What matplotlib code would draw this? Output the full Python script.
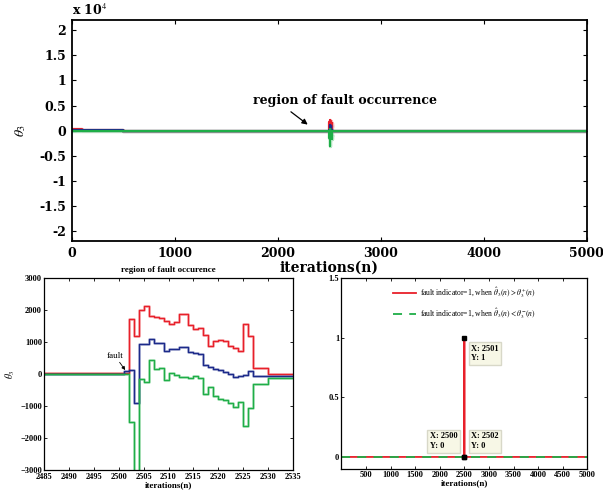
import numpy as np
import matplotlib
matplotlib.use("Agg")
import matplotlib.pyplot as plt
from matplotlib.ticker import FuncFormatter, MultipleLocator

plt.rcParams['mathtext.fontset'] = 'stix'

# estimated values of theta_3 around the fault (n = 2500 .. 2530), held until next n
n_fault = list(range(2500, 2531))
red_fault = [20, 20, 1720, 1177, 1990, 2115, 1803, 1770, 1740, 1647, 1574, 1626, 1876, 1876,
             1543, 1407, 1438, 1230, 865, 1021, 1073, 1021, 886, 813, 730, 1563, 1177,
             188, 188, 188, 0]
blue_fault = [0, 100, 130, -900, 920, 920, 1094, 969, 969, 708, 790, 790, 840, 840, 670, 640,
              625, 292, 220, 156, 120, 60, 10, -104, -73, -21, 83, -52, -52, -52, -60]
green_fault = [0, 0, -1500, -3100, -150, -250, 420, 140, 200, -200, 40, -20, -100, -100, -140,
               -70, -120, -620, -420, -700, -780, -820, -900, -1020, -880, -1630, -1070,
               -300, -300, -300, -120]

# early transient for the full-range plot
n_start = [0, 100, 500]
red_start = [250, 150, 20]
blue_start = [120, 40, 0]
green_start = [-60, -20, 0]

# fault indicator
ind_x = [0, 2500, 2501, 2502, 5000]
ind_up = [0, 0, 1, 0, 0]
ind_down = [0, 0, 0, 0, 0]
tips_x = [2501, 2500, 2502]
tips_y = [1, 0, 0]

RED = '#e8202a'
BLUE = '#1c2a8a'
GREEN = '#1fae48'

fig = plt.figure(figsize=(6.03, 4.92), dpi=100)

# ---------------- top: full range ----------------
ax1 = fig.add_axes([0.119, 0.510, 0.854, 0.449])
for c, s0, sf in [(RED, red_start, red_fault), (BLUE, blue_start, blue_fault),
                  (GREEN, green_start, green_fault)]:
    x = n_start + n_fault + [5000]
    y = s0 + sf + [sf[-1]]
    ax1.plot(x, y, color=c, lw=2.4, alpha=0.3, drawstyle='steps-post')
    ax1.plot(x, y, color=c, lw=1.5, drawstyle='steps-post')
ax1.set_xlim(0, 5000)
ax1.set_ylim(-2.2e4, 2.2e4)
ax1.set_yticks(np.arange(-2e4, 2.01e4, 0.5e4))
ax1.yaxis.set_major_formatter(FuncFormatter(lambda v, p: '%g' % (v / 1e4)))
ax1.xaxis.set_major_locator(MultipleLocator(1000))
ax1.tick_params(direction='in', top=True, right=True, length=3, width=0.8, labelsize=9, pad=4)
for lab in ax1.get_xticklabels() + ax1.get_yticklabels():
    lab.set_family('DejaVu Serif')
    lab.set_fontweight('bold')
for sp in ax1.spines.values():
    sp.set_linewidth(1.3)
ax1.set_xlabel('iterations(n)', family='DejaVu Serif', fontweight='bold', fontsize=10, labelpad=1)
ax1.set_ylabel(r'$\theta_3$', fontsize=10, labelpad=8)
ax1.text(0, 1.01, r'x 10$^4$', transform=ax1.transAxes, family='DejaVu Serif',
         fontweight='bold', fontsize=9, va='bottom')
ax1.annotate('region of fault occurrence', xy=(2291, 1200), xytext=(2650, 6100),
             ha='center', va='center', family='DejaVu Serif', fontweight='bold', fontsize=9,
             arrowprops=dict(arrowstyle='-|>', color='black', lw=0.9, shrinkA=3, shrinkB=0,
                             mutation_scale=8, relpos=(0.17, 0.0)))

# ---------------- bottom left: zoom on fault ----------------
ax2 = fig.add_axes([0.073, 0.045, 0.413, 0.39])
for c, sf in [(RED, red_fault), (BLUE, blue_fault), (GREEN, green_fault)]:
    x = [2485] + n_fault + [2535]
    y = [sf[0]] + sf + [sf[-1]]
    ax2.plot(x, y, color=c, lw=2.0, alpha=0.3, drawstyle='steps-post')
    ax2.plot(x, y, color=c, lw=1.0, drawstyle='steps-post')
ax2.set_xlim(2485, 2535)
ax2.set_ylim(-3000, 3000)
ax2.xaxis.set_major_locator(MultipleLocator(5))
ax2.yaxis.set_major_locator(MultipleLocator(1000))
ax2.tick_params(direction='in', top=True, right=True, length=2.5, width=0.6, labelsize=6)
ax2.tick_params(axis='x', pad=2.5)
ax2.tick_params(axis='y', pad=1.5)
for lab in ax2.get_xticklabels() + ax2.get_yticklabels():
    lab.set_family('Liberation Serif')
    lab.set_fontweight('bold')
for sp in ax2.spines.values():
    sp.set_linewidth(0.9)
ax2.set_title('region of fault occurence', family='Liberation Serif', fontweight='bold',
              fontsize=6.5, pad=4)
ax2.set_xlabel('iterations(n)', family='Liberation Serif', fontweight='bold', fontsize=6.5,
               labelpad=0)
ax2.set_ylabel(r'$\theta_3$', fontsize=7, labelpad=2)
ax2.annotate('fault', xy=(2501.3, 120), xytext=(2499.2, 450), ha='center', va='bottom',
             family='Liberation Serif', fontsize=6.5,
             arrowprops=dict(arrowstyle='-|>', color='black', lw=0.6, mutation_scale=5,
                             shrinkA=0, shrinkB=0))

# ---------------- bottom right: fault indicator ----------------
ax3 = fig.add_axes([0.566, 0.047, 0.408, 0.388])
ax3.plot(ind_x, ind_up, color=RED, lw=1.3,
         label=r'fault indicator=1, when $\hat{\theta}_3(n) > \theta_3^{+}(n)$')
ax3.plot(ind_x, ind_down, color=GREEN, lw=1.3, ls=(0, (5, 4)),
         label=r'fault indicator=1, when $\hat{\theta}_3(n) < \theta_3^{-}(n)$')
ax3.plot(tips_x, tips_y, 's', color='black', ms=3)
ax3.set_xlim(0, 5000)
ax3.set_ylim(-0.1, 1.5)
ax3.set_xticks(np.arange(500, 5001, 500))
ax3.set_yticks([0, 0.5, 1, 1.5])
ax3.yaxis.set_major_formatter(FuncFormatter(lambda v, p: '%g' % v))
ax3.tick_params(direction='in', top=True, right=True, length=2.5, width=0.6, labelsize=6, pad=1.5)
for lab in ax3.get_xticklabels() + ax3.get_yticklabels():
    lab.set_family('Liberation Serif')
    lab.set_fontweight('bold')
for sp in ax3.spines.values():
    sp.set_linewidth(0.9)
ax3.set_xlabel('iterations(n)', family='Liberation Serif', fontweight='bold', fontsize=6.5,
               labelpad=0)
leg = ax3.legend(loc='upper center', frameon=False, handlelength=3.0,
                 prop={'family': 'Liberation Serif', 'size': 5.5}, borderaxespad=0.6,
                 labelspacing=0.8, handletextpad=0.5)

box = dict(boxstyle='square,pad=0.3', fc='#f7f7e6', ec='#d8d8c8', lw=1.0)
tip_off = [(5, -5, 'left', 'top'), (-5, 5, 'right', 'bottom'), (5, 5, 'left', 'bottom')]
for tx, ty, (ox, oy, ha, va) in zip(tips_x, tips_y, tip_off):
    ax3.annotate('X: %d\nY: %d' % (tx, ty), xy=(tx, ty), xytext=(ox, oy),
                 textcoords='offset points', ha=ha, va=va, multialignment='left',
                 family='Liberation Serif', fontweight='bold', fontsize=6, bbox=box,
                 linespacing=1.3)

fig.savefig('out.png', dpi=100)
